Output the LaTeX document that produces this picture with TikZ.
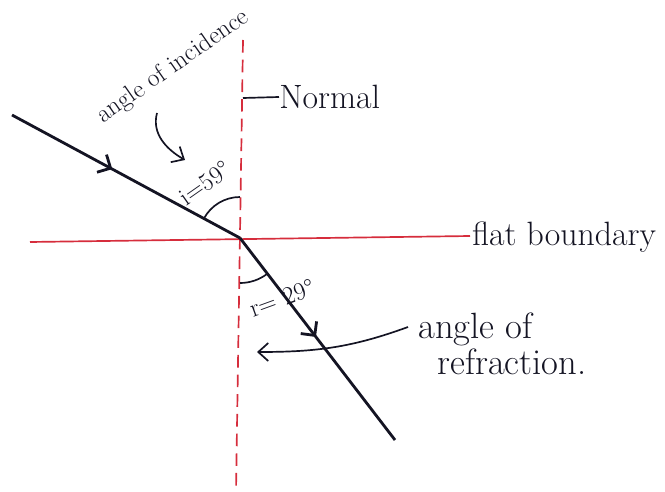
\documentclass[tikz,border=0pt]{standalone}
\usepackage{fontspec}
\usetikzlibrary{arrows.meta,decorations.markings}
\definecolor{normalred}{RGB}{214,45,60}
\definecolor{ink}{RGB}{20,20,35}

\begin{document}
\begin{tikzpicture}[scale=0.5,
  ray/.style={ink,line width=2pt},
  redline/.style={normalred,line width=1.2pt},
  thin/.style={ink,line width=1.2pt},
  hand/.style={ink,font=\fontsize{24}{28}\selectfont,inner sep=0pt},
  handbig/.style={ink,font=\fontsize{26}{30}\selectfont,inner sep=0pt},
  handsmall/.style={ink,font=\fontsize{18}{22}\selectfont,inner sep=0pt},
  barb/.style={-{Straight Barb[length=2.5mm,width=4.5mm]}},
  midbarb/.style={postaction={decorate},decoration={markings,
    mark=at position #1 with {\arrow{Straight Barb[length=2.5mm,width=5mm]}}}}]
\useasboundingbox (0,0) rectangle (33.25,-24.6);
\coordinate (O) at (12,-11.9);
\coordinate (S) at (0.6,-5.75);
\coordinate (E) at (19.75,-22);
\coordinate (NT) at (12.15,-2);
\coordinate (NB) at (11.8,-24.6);
\coordinate (BL) at (1.5,-12.1);
\coordinate (BR) at (23.5,-11.8);
% normal and boundary
\draw [redline,dash pattern=on 9pt off 5pt] (NT)--(NB);
\draw [redline] (BL)--(BR);
\node [hand,anchor=base west] (flat) at (23.6,-12.25) {flat boundary};
\coordinate (NL) at (12.15,-4.9);
\node [hand,anchor=west] (normal) at (13.95,-4.85) {Normal};
\draw [thin] (NL)--(normal.west);
% rays
\draw [ray,midbarb=0.44] (S)--(O);
\draw [ray,midbarb=0.49] (O)--(E);
% angles
\draw [thin] (O)+(90:2.05) arc (90:152:2.05);
\draw [thin] (O)+(270:2.25) arc (270:307.5:2.25);
\node [handsmall,rotate=35] (inc) at (8.65,-3.35) {angle of incidence};
\coordinate (incA) at (7.85,-5.65);
\coordinate (incB) at (9.25,-8);
\draw [thin,barb] (incA) to [out=255,in=150] (incB);
\node [handsmall,rotate=35] (i) at (10.25,-9.15) {i=59°};
\node [handsmall,rotate=20] (r) at (14.1,-14.9) {r= 29°};
% refraction label
\node [handbig,anchor=base west] (ang) at (20.9,-16.9) {angle of};
\node [handbig,anchor=base west] (refr) at (21.85,-18.7) {refraction.};
\coordinate (refA) at (20.4,-16.35);
\coordinate (refB) at (12.85,-17.6);
\draw [thin,barb] (refA) to [out=200,in=0] (refB);
\end{tikzpicture}
\end{document}
